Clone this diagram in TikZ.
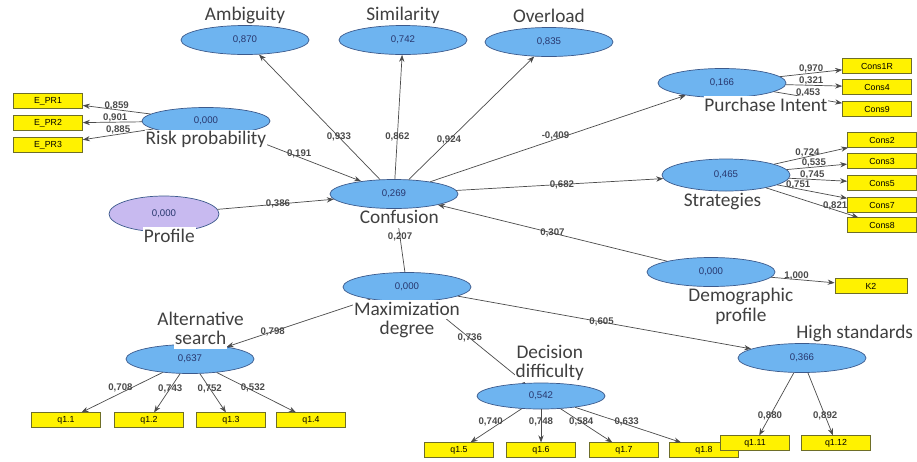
\documentclass[tikz,border=0pt]{standalone}
\usepackage{fontspec}
\setmainfont{Liberation Sans}
\newfontfamily\calib{Carlito}
\usetikzlibrary{shapes.geometric,positioning,arrows.meta}
\definecolor{lvblue}{RGB}{110,180,240}
\definecolor{lvedge}{RGB}{60,90,140}
\definecolor{lvlilac}{RGB}{200,186,240}
\definecolor{valtxt}{RGB}{40,55,110}
\definecolor{nametxt}{RGB}{64,64,64}
\definecolor{indedge}{RGB}{110,110,40}
\definecolor{linegray}{RGB}{75,75,75}
\begin{document}
\begin{tikzpicture}[x=0.02cm,y=-0.02cm,
  lv/.style={ellipse,draw=lvedge,fill=lvblue,minimum width=2.56cm,minimum height=0.58cm,inner sep=0pt,font=\fontsize{5.5}{6.5}\selectfont,text=valtxt},
  ind/.style={rectangle,draw=indedge,fill=yellow,minimum width=1.38cm,minimum height=0.29cm,inner sep=0pt,font=\fontsize{5}{6}\selectfont},
  lvname/.style={font=\calib\fontsize{11}{11.5}\selectfont,text=nametxt,fill=white,inner sep=0.5pt,text height=7.8pt,text depth=2pt},
  wt/.style={font=\fontsize{5.5}{6}\selectfont\bfseries,text=linegray,inner sep=0.3pt},
  ld/.style={wt,above=-0.5pt},
  rel/.style={draw=linegray,-{Stealth[length=4pt,width=3pt]}}]
\useasboundingbox (0,0) rectangle (917,461);
% latent variables
\node[lv] (amb) at (245,40) {0,870};
\node[lv] (sim) at (403,40) {0,742};
\node[lv] (over) at (549,42) {0,835};
\node[lv,minimum height=0.54cm] (risk) at (206,121) {0,000};
\node[lv] (conf) at (394,194) {0,269};
\node[lv,fill=lvlilac,minimum width=2.2cm,minimum height=0.72cm] (prof) at (164,214) {0,000};
\node[lv] (pint) at (722,83) {0,166};
\node[lv,minimum height=0.64cm] (strat) at (726,175) {0,465};
\node[lv] (demo) at (711,272) {0,000};
\node[lv] (maxd) at (407,287) {0,000};
\node[lv] (alt) at (190,359) {0,637};
\node[lv,minimum height=0.52cm] (dec) at (541,396) {0,542};
\node[lv] (hstd) at (802,358) {0,366};
% indicators
\node[ind] (epr1) at (48,101) {E\_PR1};
\node[ind] (epr2) at (48,123) {E\_PR2};
\node[ind] (epr3) at (48,145) {E\_PR3};
\node[ind] (cons1r) at (877,66) {Cons1R};
\node[ind] (cons4) at (877,87) {Cons4};
\node[ind] (cons9) at (877,109) {Cons9};
\node[ind] (cons2) at (882,140) {Cons2};
\node[ind] (cons3) at (882,161) {Cons3};
\node[ind] (cons5) at (882,183) {Cons5};
\node[ind] (cons7) at (882,205) {Cons7};
\node[ind] (cons8) at (882,225) {Cons8};
\node[ind,minimum width=1.44cm] (k2) at (871,286) {K2};
\node[ind] (q11) at (66,420) {q1.1};
\node[ind] (q12) at (149,420) {q1.2};
\node[ind] (q13) at (231,420) {q1.3};
\node[ind] (q14) at (311,420) {q1.4};
\node[ind] (q15) at (459,450) {q1.5};
\node[ind] (q16) at (541,450) {q1.6};
\node[ind] (q17) at (624,450) {q1.7};
\node[ind] (q18) at (704,450) {q1.8};
\node[ind] (q111) at (755,443) {q1.11};
\node[ind] (q112) at (836,443) {q1.12};
% inner model
\draw[rel] (conf) -- node[wt,pos=0.34] {0,933} (amb);
\draw[rel] (conf) -- node[wt,pos=0.34] {0,862} (sim);
\draw[rel] (conf) -- node[wt,pos=0.32] {0,924} (over);
\draw[rel] (risk) -- node[wt,pos=0.5,yshift=2pt] {0,191} (conf);
\draw[rel] (prof) -- node[wt,pos=0.52] {0,386} (conf);
\draw[rel] (conf) -- node[wt,pos=0.49,yshift=2pt] {-0,409} (pint);
\draw[rel] (conf) -- node[wt,pos=0.51] {0,682} (strat);
\draw[rel] (demo) -- node[wt,pos=0.5] {0,307} (conf);
\draw[rel] (maxd) -- node[wt,pos=0.55] {0,207} (conf);
\draw[rel] (maxd) -- node[wt,pos=0.68] {0,798} (alt);
\draw[rel] (maxd) -- node[wt,pos=0.45] {0,736} (dec);
\draw[rel] (maxd) -- node[wt,pos=0.49] {0,605} (hstd);
% outer model
\draw[rel] (risk) -- node[ld,pos=0.5] {0,859} (epr1);
\draw[rel] (risk) -- node[ld,pos=0.45] {0,901} (epr2);
\draw[rel] (risk) -- node[ld,pos=0.5] {0,885} (epr3);
\draw[rel] (pint) -- node[ld,pos=0.5] {0,970} (cons1r);
\draw[rel] (pint) -- node[ld,pos=0.45] {0,321} (cons4);
\draw[rel] (pint) -- node[ld,pos=0.5] {0,453} (cons9);
\draw[rel] (strat) -- node[ld,pos=0.45] {0,724} (cons2);
\draw[rel] (strat) -- node[ld,pos=0.45] {0,535} (cons3);
\draw[rel] (strat) -- node[ld,pos=0.4] {0,745} (cons5);
\draw[rel] (strat) -- node[ld,pos=0.3] {0,751} (cons7);
\draw[rel] (strat) -- node[ld,pos=0.75] {0,821} (cons8);
\draw[rel] (demo) -- node[ld,pos=0.4] {1,000} (k2);
\draw[rel] (alt) -- node[wt,pos=0.39,xshift=-6pt] {0,708} (q11);
\draw[rel] (alt) -- node[wt,pos=0.38] {0,743} (q12);
\draw[rel] (alt) -- node[wt,pos=0.38] {0,752} (q13);
\draw[rel] (alt) -- node[wt,pos=0.39,xshift=3pt] {0,532} (q14);
\draw[rel] (dec) -- node[wt,pos=0.4,xshift=-6pt] {0,740} (q15);
\draw[rel] (dec) -- node[wt,pos=0.38] {0,748} (q16);
\draw[rel] (dec) -- node[wt,pos=0.4] {0,584} (q17);
\draw[rel] (dec) -- node[wt,pos=0.42,xshift=4pt] {0,633} (q18);
\draw[rel] (hstd) -- node[wt,pos=0.69] {0,880} (q111);
\draw[rel] (hstd) -- node[wt,pos=0.69] {0,892} (q112);
% names
\node[lvname,above=0pt of amb] {Ambiguity};
\node[lvname,above=0pt of sim] {Similarity};
\node[lvname,above=0pt of over] {Overload};
\node[lvname,below=-3pt of risk] {Risk probability};
\node[lvname,below=0pt of conf,xshift=3pt] {Confusion};
\node[lvname,below=-3pt of prof,xshift=3pt] {Profile};
\node[lvname,below=-1pt of pint,xshift=25pt] {Purchase Intent};
\node[lvname,below=0pt of strat,xshift=-2pt] {Strategies};
\node[lvname,below=0pt of demo,xshift=17pt] (demo1) {Demographic};
\node[lvname,below=0pt of demo1] {profile};
\node[lvname,below=-1pt of maxd] (maxd1) {Maximization};
\node[lvname,below=0pt of maxd1] {degree};
\node[lvname,above=-3pt of alt,xshift=6pt] (alt2) {search};
\node[lvname,above=0pt of alt2] {Alternative};
\node[lvname,above=0pt of dec,xshift=5pt] (dec2) {difficulty};
\node[lvname,above=0pt of dec2] {Decision};
\node[lvname,above=0pt of hstd,xshift=30pt] {High standards};
\end{tikzpicture}
\end{document}
